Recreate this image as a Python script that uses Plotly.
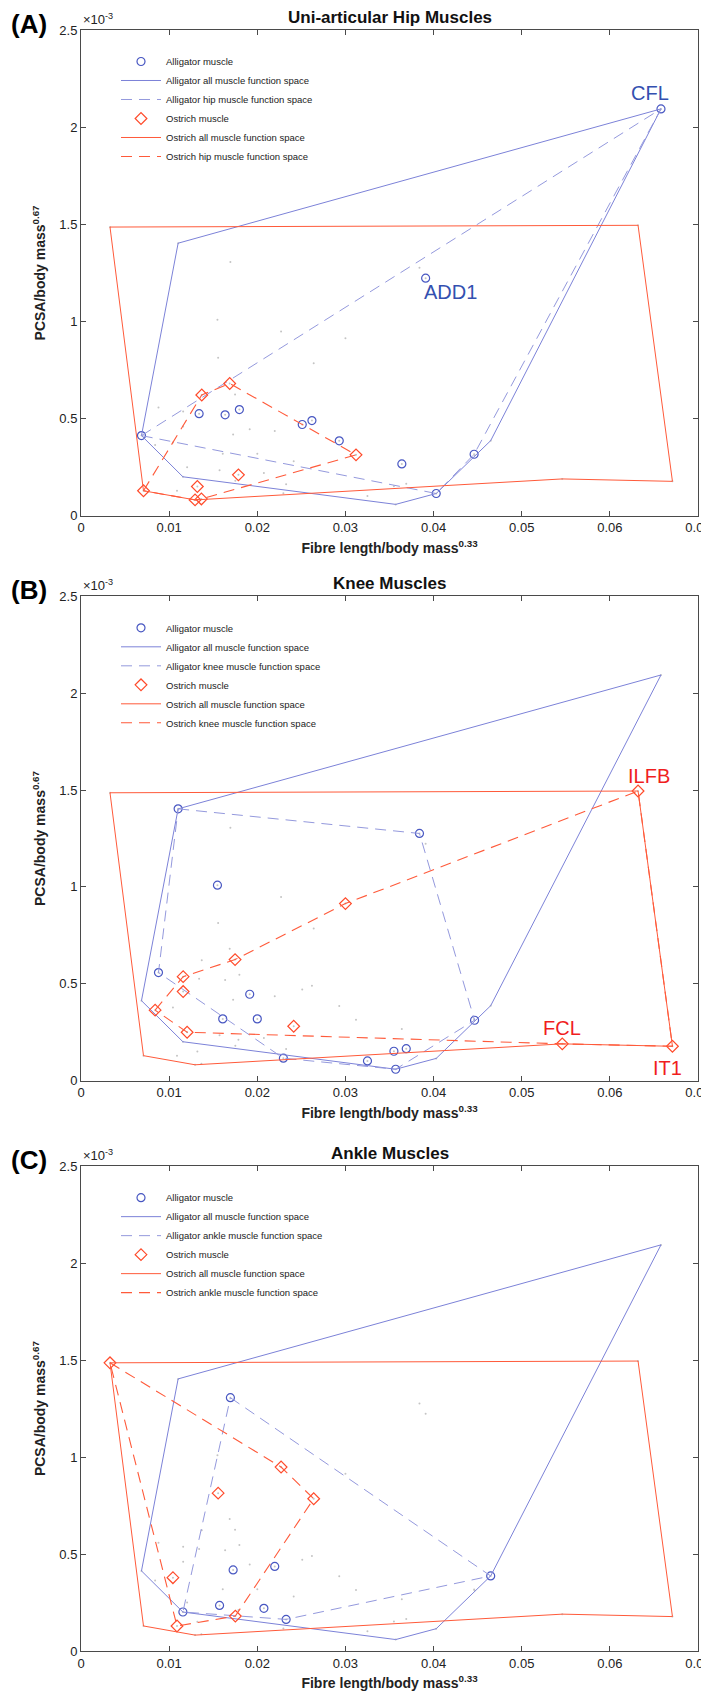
import plotly.graph_objects as go

# ---------------- data (y values in units of 1e-3) ----------------
# Panel A: uni-articular hip muscles
alli_hip_x = [0.00686, 0.0134, 0.01635, 0.01797, 0.0251, 0.0262, 0.0293, 0.0364, 0.0658, 0.0391, 0.0446, 0.0403]
alli_hip_y = [0.413, 0.526, 0.520, 0.547, 0.470, 0.490, 0.386, 0.267, 2.094, 1.223, 0.317, 0.115]
alli_hip_hull = [0, 8, 10, 11, 0]
ost_hip_x = [0.00709, 0.0137, 0.01687, 0.0312, 0.01786, 0.0132, 0.01294, 0.01366]
ost_hip_y = [0.129, 0.622, 0.681, 0.314, 0.211, 0.151, 0.082, 0.087]
ost_hip_hull = [0, 1, 2, 3, 7, 6, 0]

# Panel B: knee muscles
alli_knee_x = [0.01102, 0.0384, 0.01548, 0.00879, 0.01914, 0.01608, 0.0200, 0.02296, 0.0325, 0.0355, 0.0369, 0.0357, 0.04465]
alli_knee_y = [1.403, 1.276, 1.009, 0.558, 0.446, 0.319, 0.319, 0.116, 0.102, 0.152, 0.165, 0.059, 0.312]
alli_knee_hull = [0, 1, 12, 11, 7, 3, 0]
ost_knee_x = [0.00841, 0.01159, 0.01159, 0.01204, 0.01748, 0.0300, 0.02413, 0.0632, 0.0546, 0.0671]
ost_knee_y = [0.364, 0.537, 0.460, 0.250, 0.625, 0.914, 0.281, 1.495, 0.190, 0.1775]
ost_knee_hull = [0, 1, 4, 5, 7, 9, 8, 3, 0]

# Panel C: ankle muscles
alli_ankle_x = [0.01695, 0.04648, 0.01726, 0.02198, 0.01156, 0.01572, 0.02075, 0.02327]
alli_ankle_y = [1.306, 0.387, 0.418, 0.436, 0.201, 0.235, 0.220, 0.163]
alli_ankle_hull = [0, 1, 7, 4, 0]
ost_ankle_x = [0.00329, 0.0227, 0.0264, 0.01556, 0.01043, 0.01089, 0.01751]
ost_ankle_y = [1.486, 0.9485, 0.785, 0.814, 0.378, 0.129, 0.180]
ost_ankle_hull = [0, 1, 2, 6, 5, 0]

# whole-limb function spaces
alli_all_x = [0.00686, 0.01102, 0.0658, 0.04648, 0.0403, 0.0357, 0.01156, 0.00686]
alli_all_y = [0.413, 1.403, 2.094, 0.387, 0.115, 0.059, 0.201, 0.413]
ost_all_x = [0.00329, 0.0632, 0.0671, 0.0546, 0.01294, 0.00709, 0.00329]
ost_all_y = [1.486, 1.495, 0.1775, 0.190, 0.082, 0.129, 1.486]

panel_titles = ["Uni-articular Hip Muscles", "Knee Muscles", "Ankle Muscles"]
panel_tags = ["(A)", "(B)", "(C)"]
group_names = ["hip", "knee", "ankle"]

labels_A = [("CFL", 0.0658, 2.094, -11, 16, "alli"), ("ADD1", 0.0391, 1.223, 25, -14, "alli")]
labels_B = [("ILFB", 0.0632, 1.495, 11, 15, "ost"), ("FCL", 0.0546, 0.190, 0, 16, "ost"),
            ("IT1", 0.0671, 0.1775, -5, -22, "ost")]
labels_C = []

x_ticks = [0, 0.01, 0.02, 0.03, 0.04, 0.05, 0.06, 0.07]
x_ticktext = ["0", "0.01", "0.02", "0.03", "0.04", "0.05", "0.06", "0.07"]
y_ticks = [0, 0.5, 1, 1.5, 2, 2.5]
y_ticktext = ["0", "0.5", "1", "1.5", "2", "2.5"]

# ---------------- styling ----------------
W, H = 709, 1699
ML, MR, MT, MB = 73, 19, 22, 55.5
PLOT_H = H - MT - MB
PLOT_W = W - ML - MR
panel_px = [(22, 508), (588.5, 1073), (1158.5, 1643.5)]  # top, bottom in pixels

def yp(py):
    return (H - MB - py) / PLOT_H

def xp(px):
    return (px - ML) / PLOT_W

C_ALLI_MK = "#4857c2"
C_ALLI_SOLID = "#7c82d8"
C_ALLI_DASH = "#9499dd"
C_OST_MK = "#ff4a2a"
C_OST_SOLID = "#ff5a3a"
C_OST_DASH = "#ff5a3a"
C_ALLI_TXT = "#3350b0"
C_OST_TXT = "#f01e1e"
AX_COL = "#4a4a4a"
FONT = "Liberation Sans, Arial, Helvetica, sans-serif"
DASH = "11px,7px"

panels = [
    (alli_hip_x, alli_hip_y, alli_hip_hull, ost_hip_x, ost_hip_y, ost_hip_hull, labels_A),
    (alli_knee_x, alli_knee_y, alli_knee_hull, ost_knee_x, ost_knee_y, ost_knee_hull, labels_B),
    (alli_ankle_x, alli_ankle_y, alli_ankle_hull, ost_ankle_x, ost_ankle_y, ost_ankle_hull, labels_C),
]

# all muscles (grey background dots)
all_x = alli_hip_x + alli_knee_x + alli_ankle_x + ost_hip_x + ost_knee_x + ost_ankle_x
all_y = alli_hip_y + alli_knee_y + alli_ankle_y + ost_hip_y + ost_knee_y + ost_ankle_y

fig = go.Figure()
annotations = []
layout_axes = {}

for i, (ax_, ay_, ahull, ox_, oy_, ohull, labs) in enumerate(panels):
    n = "" if i == 0 else str(i + 1)
    xa, ya = "x" + n, "y" + n
    leg = "legend" + n
    g = group_names[i]

    fig.add_trace(go.Scatter(x=all_x, y=all_y, mode="markers", xaxis=xa, yaxis=ya,
                             marker=dict(size=2, color="#c4c4c4"), showlegend=False,
                             hoverinfo="skip"))
    fig.add_trace(go.Scatter(x=ax_, y=ay_, mode="markers", name="Alligator muscle",
                             xaxis=xa, yaxis=ya, legend=leg,
                             marker=dict(symbol="circle-open", size=8, color=C_ALLI_MK,
                                         line=dict(width=1.2, color=C_ALLI_MK))))
    fig.add_trace(go.Scatter(x=alli_all_x, y=alli_all_y, mode="lines",
                             name="Alligator all muscle function space",
                             xaxis=xa, yaxis=ya, legend=leg,
                             line=dict(color=C_ALLI_SOLID, width=1)))
    fig.add_trace(go.Scatter(x=[ax_[k] for k in ahull], y=[ay_[k] for k in ahull], mode="lines",
                             name=f"Alligator {g} muscle function space",
                             xaxis=xa, yaxis=ya, legend=leg,
                             line=dict(color=C_ALLI_DASH, width=1, dash=DASH)))
    fig.add_trace(go.Scatter(x=ox_, y=oy_, mode="markers", name="Ostrich muscle",
                             xaxis=xa, yaxis=ya, legend=leg,
                             marker=dict(symbol="diamond-open", size=9, color=C_OST_MK,
                                         line=dict(width=1.2, color=C_OST_MK))))
    fig.add_trace(go.Scatter(x=ost_all_x, y=ost_all_y, mode="lines",
                             name="Ostrich all muscle function space",
                             xaxis=xa, yaxis=ya, legend=leg,
                             line=dict(color=C_OST_SOLID, width=1)))
    fig.add_trace(go.Scatter(x=[ox_[k] for k in ohull], y=[oy_[k] for k in ohull], mode="lines",
                             name=f"Ostrich {g} muscle function space",
                             xaxis=xa, yaxis=ya, legend=leg,
                             line=dict(color=C_OST_DASH, width=1.1, dash=DASH)))

    top, bot = panel_px[i]
    dom = [yp(bot), yp(top)]
    layout_axes["xaxis" + n] = dict(
        domain=[0, 1], anchor=ya, range=[0, 0.07], tickvals=x_ticks, ticktext=x_ticktext,
        ticks="inside", ticklen=5, tickcolor=AX_COL, showline=True, linecolor=AX_COL,
        linewidth=1, mirror="ticks", showgrid=False, zeroline=False,
        tickfont=dict(size=13, color="#222", family=FONT),
        title=dict(text="<b>Fibre length/body mass<sup>0.33</sup></b>", standoff=8,
                   font=dict(size=14, color="#222", family=FONT)))
    layout_axes["yaxis" + n] = dict(
        domain=dom, anchor=xa, range=[0, 2.5], tickvals=y_ticks, ticktext=y_ticktext,
        ticks="inside", ticklen=5, tickcolor=AX_COL, showline=True, linecolor=AX_COL,
        linewidth=1, mirror="ticks", showgrid=False, zeroline=False,
        tickfont=dict(size=13, color="#222", family=FONT),
        title=dict(text="<b>PCSA/body mass<sup>0.67</sup></b>", standoff=10,
                   font=dict(size=14, color="#222", family=FONT)))

    layout_axes[leg] = dict(x=xp(108), y=yp(top + 17), xanchor="left", yanchor="top",
                            bgcolor="rgba(255,255,255,0)", borderwidth=0, tracegroupgap=0,
                            itemwidth=40, font=dict(size=9.5, color="#222", family=FONT))

    annotations.append(dict(text=f"<b>{panel_titles[i]}</b>", xref="paper", yref="paper",
                            x=xp((73 + 690) / 2), y=yp(top - 13), xanchor="center", yanchor="middle",
                            showarrow=False, font=dict(size=17, color="#111", family=FONT)))
    annotations.append(dict(text=f"<b>{panel_tags[i]}</b>", xref="paper", yref="paper",
                            x=xp(1), y=yp(top - 6), xanchor="left", yanchor="middle",
                            showarrow=False, font=dict(size=26, color="#000", family=FONT)))
    annotations.append(dict(text="×10<sup>-3</sup>", xref="paper", yref="paper",
                            x=xp(73), y=yp(top - 1), xanchor="left", yanchor="bottom",
                            showarrow=False, font=dict(size=13, color="#222", family=FONT)))
    for (t, lx, ly, dx, dy, sp) in labs:
        annotations.append(dict(text=t, x=lx, y=ly, xref=xa, yref=ya, xshift=dx, yshift=dy,
                                xanchor="center", yanchor="middle", showarrow=False,
                                font=dict(size=20, family=FONT,
                                          color=C_ALLI_TXT if sp == "alli" else C_OST_TXT)))

fig.update_layout(
    width=W, height=H, margin=dict(l=ML, r=MR, t=MT, b=MB, autoexpand=False),
    paper_bgcolor="white", plot_bgcolor="white",
    font=dict(family=FONT), annotations=annotations, **layout_axes)

fig.write_html("out.html")
